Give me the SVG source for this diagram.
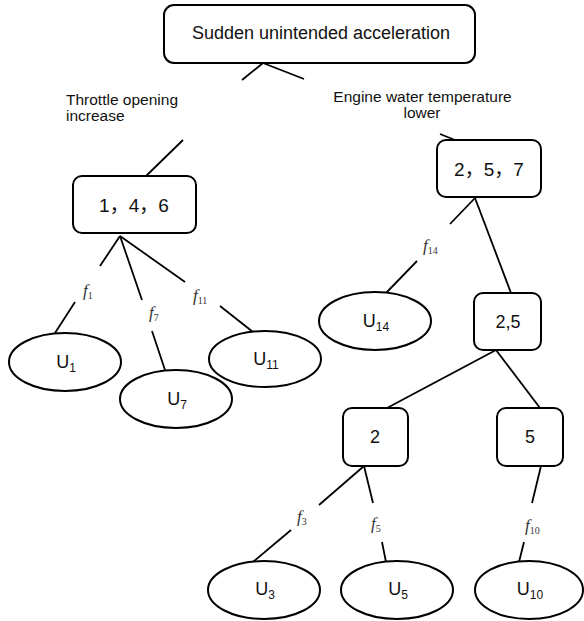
<svg xmlns="http://www.w3.org/2000/svg" width="584" height="621" viewBox="0 0 584 621">
<style>
.box{fill:#fff;stroke:#000;stroke-width:2}
.ell{fill:#fff;stroke:#000;stroke-width:2}
.ln{stroke:#000;stroke-width:1.8;fill:none}
.t{font-family:"Liberation Sans",Arial,sans-serif;fill:#111;text-anchor:middle}
.cj{font-family:"Noto Sans CJK SC",sans-serif}
.lb{font-family:"Liberation Sans",Arial,sans-serif;fill:#111;font-size:15.5px}
.f{font-family:"Liberation Serif","Times New Roman",serif;font-style:italic;font-size:17px;fill:#333}
.fs{font-style:normal;font-size:10px}
</style>
<rect width="584" height="621" fill="#fff"/>
<g id="connectors">
<line class="ln" x1="263" y1="63" x2="242" y2="80"/>
<line class="ln" x1="263" y1="63" x2="304" y2="79"/>
<line class="ln" x1="183" y1="140" x2="145" y2="177"/>
<line class="ln" x1="440" y1="134" x2="455" y2="140"/>
<line class="ln" x1="120" y1="236" x2="100" y2="266"/>
<line class="ln" x1="75" y1="302" x2="55" y2="333"/>
<line class="ln" x1="120" y1="236" x2="142" y2="300"/>
<line class="ln" x1="152" y1="331" x2="165" y2="370"/>
<line class="ln" x1="120" y1="236" x2="185" y2="282"/>
<line class="ln" x1="220" y1="306" x2="253" y2="332"/>
<line class="ln" x1="475" y1="198" x2="450" y2="224"/>
<line class="ln" x1="417" y1="261" x2="386" y2="293"/>
<line class="ln" x1="475" y1="198" x2="511" y2="293"/>
<line class="ln" x1="496" y1="350" x2="387" y2="408"/>
<line class="ln" x1="496" y1="350" x2="540" y2="408"/>
<line class="ln" x1="364" y1="466" x2="319" y2="505"/>
<line class="ln" x1="291" y1="530" x2="253" y2="562"/>
<line class="ln" x1="364" y1="466" x2="373" y2="503"/>
<line class="ln" x1="382" y1="542" x2="386" y2="562"/>
<line class="ln" x1="541" y1="466" x2="532" y2="503"/>
<line class="ln" x1="524" y1="542" x2="519" y2="562"/>
</g>
<g id="labels">
<text class="lb" x="66" y="105">Throttle opening</text>
<text class="lb" x="66" y="121">increase</text>
<text class="lb" x="422.5" y="102" text-anchor="middle">Engine water temperature</text>
<text class="lb" x="422" y="118" text-anchor="middle">lower</text>
<text class="f" x="83" y="296">f<tspan class="fs" dy="3">1</tspan></text>
<text class="f" x="149" y="318">f<tspan class="fs" dy="3">7</tspan></text>
<text class="f" x="193" y="301">f<tspan class="fs" dy="3">11</tspan></text>
<text class="f" x="423" y="251">f<tspan class="fs" dy="3">14</tspan></text>
<text class="f" x="297" y="522">f<tspan class="fs" dy="3">3</tspan></text>
<text class="f" x="371" y="529">f<tspan class="fs" dy="3">5</tspan></text>
<text class="f" x="525" y="531">f<tspan class="fs" dy="3">10</tspan></text>
</g>
<g id="n_top"><rect class="box" x="164" y="5" width="311" height="58" rx="10"/><text class="t" x="321" y="39" font-size="18">Sudden unintended acceleration</text></g>
<g id="n_146"><rect class="box" x="73" y="176" width="123" height="57" rx="9"/><text class="t" x="134" y="212" font-size="19">1<tspan class="cj">，</tspan>4<tspan class="cj">，</tspan>6</text></g>
<g id="n_257"><rect class="box" x="437" y="140" width="104" height="57" rx="9"/><text class="t" x="489" y="176" font-size="19">2<tspan class="cj">，</tspan>5<tspan class="cj">，</tspan>7</text></g>
<g id="n_25"><rect class="box" x="474" y="293" width="67" height="57" rx="9"/><text class="t" x="508" y="328" font-size="18">2,5</text></g>
<g id="n_2"><rect class="box" x="343" y="408" width="65" height="58" rx="9"/><text class="t" x="375" y="443" font-size="18">2</text></g>
<g id="n_5"><rect class="box" x="497" y="408" width="66" height="58" rx="9"/><text class="t" x="530" y="443" font-size="18">5</text></g>
<g id="n_U1"><ellipse class="ell" cx="65" cy="362" rx="56" ry="29"/><text class="t" x="66" y="368" font-size="18">U<tspan font-size="12" dy="4">1</tspan></text></g>
<g id="n_U7"><ellipse class="ell" cx="176" cy="399" rx="56" ry="29"/><text class="t" x="177" y="405" font-size="18">U<tspan font-size="12" dy="4">7</tspan></text></g>
<g id="n_U11"><ellipse class="ell" cx="265" cy="359" rx="56" ry="28"/><text class="t" x="266" y="365" font-size="18">U<tspan font-size="12" dy="4">11</tspan></text></g>
<g id="n_U14"><ellipse class="ell" cx="375" cy="321" rx="56" ry="29"/><text class="t" x="376" y="327" font-size="18">U<tspan font-size="12" dy="4">14</tspan></text></g>
<g id="n_U3"><ellipse class="ell" cx="264" cy="590" rx="56" ry="29"/><text class="t" x="265" y="595" font-size="18">U<tspan font-size="12" dy="4">3</tspan></text></g>
<g id="n_U5"><ellipse class="ell" cx="397" cy="590" rx="56" ry="29"/><text class="t" x="398" y="595" font-size="18">U<tspan font-size="12" dy="4">5</tspan></text></g>
<g id="n_U10"><ellipse class="ell" cx="529" cy="590" rx="54" ry="29"/><text class="t" x="530" y="595" font-size="18">U<tspan font-size="12" dy="4">10</tspan></text></g>
</svg>
